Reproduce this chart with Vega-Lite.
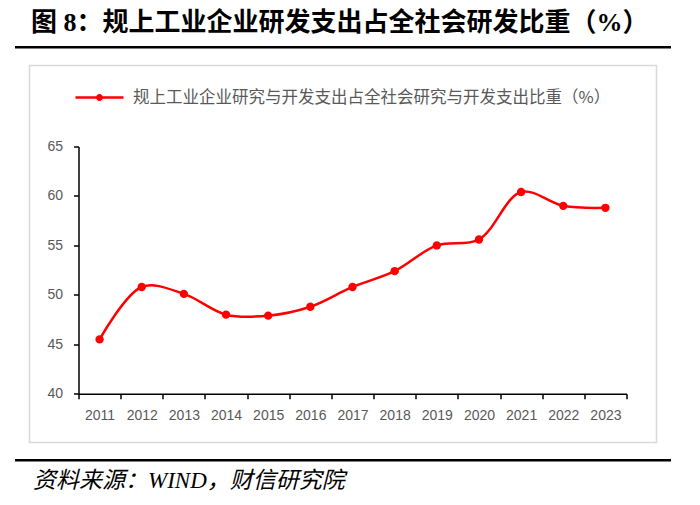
{
  "$schema": "https://vega.github.io/schema/vega-lite/v6.json",
  "background": "white",
  "padding": {"left": 15, "top": 10, "right": 0, "bottom": 0},
  "spacing": 16.5,
  "center": true,
  "bounds": "flush",
  "vconcat": [
    {
      "width": 656,
      "height": 2.5,
      "view": {"fill": "black", "stroke": null},
      "title": {
        "text": "图 8：规上工业企业研发支出占全社会研发比重（%）",
        "anchor": "start",
        "orient": "top",
        "dx": 16,
        "offset": 5,
        "fontSize": 26,
        "fontWeight": "bold",
        "font": "Liberation Serif, Noto Sans CJK SC",
        "color": "black"
      },
      "data": {"values": [{}]},
      "mark": {"type": "text"},
      "encoding": {"text": {"value": ""}}
    },
    {
      "width": 627,
      "height": 377,
      "view": {"stroke": "#d9d9d9", "strokeWidth": 1.5, "fill": "white"},
      "data": {
        "values": [
          {"year": 2011, "value": 45.5},
          {"year": 2012, "value": 50.8},
          {"year": 2013, "value": 50.1},
          {"year": 2014, "value": 48.0},
          {"year": 2015, "value": 47.9},
          {"year": 2016, "value": 48.8},
          {"year": 2017, "value": 50.8},
          {"year": 2018, "value": 52.4},
          {"year": 2019, "value": 55.0},
          {"year": 2020, "value": 55.6},
          {"year": 2021, "value": 60.4},
          {"year": 2022, "value": 59.0},
          {"year": 2023, "value": 58.8}
        ]
      },
      "mark": {
        "type": "line",
        "interpolate": "catmull-rom",
        "strokeWidth": 2.5,
        "point": {"filled": true, "size": 70}
      },
      "encoding": {
        "x": {
          "field": "year",
          "type": "ordinal",
          "scale": {"type": "band", "range": [49, 597], "paddingInner": 0, "paddingOuter": 0},
          "axis": {
            "title": null,
            "tickBand": "extent",
            "offset": -48.7,
            "labelAngle": 0,
            "domainColor": "black",
            "domainWidth": 1.5,
            "tickColor": "black",
            "tickWidth": 1.5,
            "tickSize": 5,
            "labelPadding": 10,
            "labelFont": "Liberation Sans",
            "labelFontSize": 14,
            "labelColor": "#595959",
            "grid": false
          }
        },
        "y": {
          "field": "value",
          "type": "quantitative",
          "scale": {"domain": [40, 65], "range": [328.3, 81], "nice": false, "zero": false},
          "axis": {
            "title": null,
            "values": [40, 45, 50, 55, 60, 65],
            "offset": -49,
            "grid": false,
            "domainColor": "black",
            "domainWidth": 1.5,
            "tickColor": "black",
            "tickWidth": 1.5,
            "tickSize": 5,
            "labelPadding": 11,
            "labelFont": "Liberation Sans",
            "labelFontSize": 14,
            "labelColor": "#595959"
          }
        },
        "color": {
          "datum": "规上工业企业研究与开发支出占全社会研究与开发支出比重（%）",
          "scale": {"range": ["#FF0000"]},
          "legend": {
            "title": null,
            "orient": "none",
            "legendX": 59,
            "legendY": 26,
            "padding": 0,
            "symbolType": "M-1,0H1M-0.09,0A0.09,0.09,0,1,1,0.09,0A0.09,0.09,0,1,1,-0.09,0Z",
            "symbolSize": 2304,
            "symbolStrokeWidth": 2.5,
            "symbolFillColor": "#FF0000",
            "symbolStrokeColor": "#FF0000",
            "labelFont": "Noto Sans CJK SC",
            "labelFontSize": 16.5,
            "labelColor": "#595959",
            "labelLimit": 700,
            "labelOffset": 8
          }
        }
      }
    },
    {
      "width": 656,
      "height": 2.5,
      "view": {"fill": "black", "stroke": null},
      "title": {
        "text": "资料来源：WIND，财信研究院",
        "anchor": "start",
        "orient": "bottom",
        "dx": 18,
        "offset": 5,
        "fontSize": 23,
        "fontWeight": "normal",
        "fontStyle": "italic",
        "font": "Liberation Serif, Noto Sans CJK SC",
        "color": "black"
      },
      "data": {"values": [{}]},
      "mark": {"type": "text"},
      "encoding": {"text": {"value": ""}}
    }
  ]
}
